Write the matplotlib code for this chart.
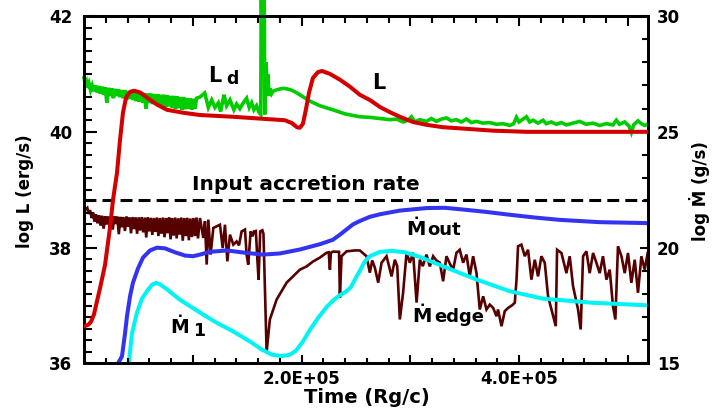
import numpy as np
import matplotlib
matplotlib.use("Agg")
import matplotlib.pyplot as plt
from matplotlib.ticker import MultipleLocator, FixedLocator, NullFormatter

# ---------------------------------------------------------------------------
# Data (time in units of 1e3 Rg/c)
# ---------------------------------------------------------------------------
# Total luminosity L (left axis, log erg/s)
t_L = [0, 4.0, 6.4, 9.2, 11.0, 14.7, 19.3, 23.9, 26.7, 30.3, 33.1, 35.8, 38.6,
       42.3, 45.9, 51.5, 57.9, 67.1, 76.3, 91.0, 106.6, 136.9, 168.2, 184.7,
       191.2, 195.7, 198.5, 201.3, 204.0, 206.8, 210.5, 215.1, 218.8, 226.1,
       235.3, 244.5, 253.6, 262.8, 272.0, 281.2, 290.4, 302.4, 315.2, 329.9,
       345.5, 375.9, 407.1, 518.3]
log_L = [36.64, 36.67, 36.72, 36.85, 37.0, 37.3, 37.7, 38.35, 38.83, 39.29,
         39.86, 40.33, 40.59, 40.69, 40.71, 40.68, 40.59, 40.47, 40.38, 40.33,
         40.29, 40.26, 40.22, 40.2, 40.15, 40.08, 40.07, 40.14, 40.38, 40.67,
         40.93, 41.03, 41.05, 41.0, 40.9, 40.78, 40.64, 40.55, 40.43, 40.34,
         40.26, 40.17, 40.12, 40.08, 40.06, 40.02, 40.0, 40.0]

# Disk luminosity L_d (left axis)
t_Ld = [0, 1.0, 2.0, 3.0, 4.5, 6.0, 7.5, 9.0, 10.5, 12.0, 13.5, 15.0, 16.5, 18.0,
        19.5, 21.0, 22.5, 24.0, 25.5, 27.0, 28.5, 30.0, 31.5, 33.0, 34.5, 36.0,
        37.5, 39.0, 40.5, 42.0, 43.5, 45.0, 46.5, 48.0, 49.5, 51.0, 52.5, 54.0,
        55.5, 57.0, 58.5, 60.0, 61.5, 63.0, 64.5, 66.0, 67.5, 69.0, 70.5, 72.0,
        73.5, 75.0, 76.5, 78.0, 79.5, 81.0, 82.5, 84.0, 85.5, 87.0, 88.5, 90.0,
        91.5, 93.0, 94.5, 96.0, 97.5, 99.0, 100.5, 102.0, 103.5, 106.6, 111.0,
        114.3, 117.4, 120.4, 123.5, 125.6, 128.7, 131.1, 134.2, 137.8, 140.3,
        143.3, 146.4, 149.5, 151.9, 154.1, 156.2, 158.7, 161.0, 162.5, 163.0,
        164.0, 164.8, 165.6, 166.2, 167.3, 168.2, 169.1, 170.0, 170.9, 172.5,
        173.7, 176.4, 180.1, 184.0, 189.3, 193.0, 198.5, 207.7, 216.9, 228.8,
        239.9, 253.6, 262.8, 272.0, 281.2, 287.3, 293.5, 298.0, 301.1, 304.1,
        308.7, 314.9, 319.4, 324.0, 328.6, 333.3, 337.8, 342.4, 347.0, 351.6,
        356.2, 360.8, 366.9, 373.0, 379.2, 385.3, 391.5, 395.1, 397.6, 400.0,
        403.7, 406.8, 409.8, 412.9, 417.5, 422.1, 425.1, 429.7, 434.3, 438.9,
        443.5, 449.6, 455.7, 461.9, 468.0, 474.1, 480.3, 486.4, 489.5, 492.5,
        497.1, 501.1, 503.3, 505.4, 509.4, 512.5, 515.6, 518.3]
log_Ld = [40.93, 40.85, 40.88, 40.76, 40.84, 40.72, 40.80, 40.70, 40.80, 40.68,
          40.79, 40.66, 40.78, 40.64, 40.77, 40.50, 40.76, 40.62, 40.75, 40.58,
          40.74, 40.62, 40.73, 40.60, 40.72, 40.58, 40.72, 40.55, 40.70, 40.57,
          40.70, 40.55, 40.69, 40.53, 40.68, 40.52, 40.68, 40.50, 40.67, 40.40,
          40.66, 40.50, 40.66, 40.48, 40.65, 40.47, 40.65, 40.45, 40.64, 40.46,
          40.64, 40.43, 40.63, 40.44, 40.62, 40.42, 40.62, 40.40, 40.61, 40.41,
          40.60, 40.38, 40.60, 40.39, 40.58, 40.40, 40.58, 40.38, 40.57, 40.40,
          40.58, 40.60, 40.67, 40.42, 40.55, 40.42, 40.50, 40.35, 40.64, 40.45,
          40.55, 40.38, 40.48, 40.40, 40.50, 40.58, 40.42, 40.50, 40.38, 40.45,
          40.33, 40.30, 42.6, 40.90, 42.6, 42.6, 40.30, 41.20, 40.80, 41.00,
          40.62, 40.75, 40.66, 40.70, 40.72, 40.74, 40.75, 40.73, 40.70, 40.64,
          40.53, 40.45, 40.38, 40.31, 40.26, 40.25, 40.23, 40.21, 40.22, 40.17,
          40.20, 40.26, 40.17, 40.21, 40.18, 40.23, 40.18, 40.22, 40.24, 40.19,
          40.21, 40.17, 40.22, 40.16, 40.18, 40.15, 40.16, 40.13, 40.14, 40.11,
          40.14, 40.25, 40.17, 40.22, 40.26, 40.17, 40.20, 40.15, 40.20, 40.14,
          40.17, 40.13, 40.16, 40.12, 40.15, 40.18, 40.13, 40.15, 40.11, 40.14,
          40.12, 40.20, 40.13, 40.17, 40.10, 39.99, 40.12, 40.19, 40.14, 40.11,
          40.13]

# Outflow rate M_out (right axis, log g/s)
t_out = [28.5, 31.2, 34.9, 37.7, 39.5, 42.3, 45.0, 49.6, 54.2, 60.7, 67.1, 74.4,
         83.6, 92.8, 100.2, 106.6, 115.8, 131.4, 148.0, 164.5, 180.1, 198.5,
         216.9, 228.8, 235.3, 247.2, 253.6, 262.8, 272.0, 290.4, 315.2, 331.8,
         345.5, 368.5, 391.5, 414.5, 437.4, 474.2, 518.3]
mdot_out = [14.8, 15.0, 15.31, 16.3, 17.04, 17.9, 18.49, 19.1, 19.57, 19.88, 20.0,
            19.97, 19.8, 19.66, 19.63, 19.7, 19.82, 19.88, 19.78, 19.7, 19.75,
            19.92, 20.15, 20.34, 20.56, 21.0, 21.15, 21.33, 21.44, 21.6, 21.71,
            21.72, 21.66, 21.55, 21.42, 21.3, 21.2, 21.1, 21.06]

# Inner accretion rate M_1 (right axis)
t_1 = [38.6, 41.4, 44.1, 48.7, 53.3, 57.9, 62.5, 66.2, 69.8, 76.3, 88.2, 106.6,
       120.4, 136.9, 152.6, 163.6, 172.8, 182.0, 189.3, 194.8, 201.3, 207.7,
       215.0, 223.3, 229.8, 235.3, 240.8, 245.4, 250.0, 253.6, 258.2, 262.8,
       272.0, 283.1, 295.0, 308.8, 329.9, 345.5, 361.2, 391.5, 421.8, 467.8,
       518.3]
mdot_1 = [14.8, 15.1, 16.3, 17.2, 17.8, 18.12, 18.4, 18.48, 18.42, 18.2, 17.75,
          17.2, 16.8, 16.39, 15.95, 15.6, 15.38, 15.32, 15.38, 15.55, 15.95,
          16.45, 16.95, 17.45, 17.75, 17.95, 18.1, 18.3, 18.7, 19.0, 19.4, 19.63,
          19.82, 19.86, 19.8, 19.6, 19.2, 18.91, 18.62, 18.12, 17.8, 17.62, 17.51]

# Accretion rate through the outer edge M_edge (right axis)
t_edge = [0, 1.5, 3.0, 4.2, 5.5, 7.0, 8.3, 9.6, 11.0, 12.4, 13.8, 15.2, 16.6,
          18.0, 19.4, 20.8, 22.2, 23.6, 25.0, 26.4, 27.8, 29.2, 30.6, 32.0, 33.4,
          34.8, 36.2, 37.6, 39.0, 40.4, 41.8, 43.2, 44.6, 46.0, 47.4, 48.8, 50.2,
          51.6, 53.0, 54.4, 55.8, 57.2, 58.6, 60.0, 61.4, 62.8, 64.2, 65.6, 67.0,
          68.4, 69.8, 71.2, 72.6, 74.0, 75.4, 76.8, 78.2, 79.6, 81.0, 82.4, 83.8,
          85.2, 86.6, 88.0, 89.4, 90.8, 92.2, 93.6, 95.0, 96.4, 97.8, 99.2, 100.6,
          102.0, 103.4, 104.8, 106.6, 109.7, 111.2, 112.8, 114.3, 116.4, 118.9,
          121.9, 125.0, 127.5, 129.6, 131.8, 134.2, 137.3, 140.3, 142.5, 144.9,
          148.0, 149.5, 151.0, 153.2, 155.0, 156.2, 158.0, 159.5, 160.5, 162.0,
          164.0, 165.0, 167.9, 170.9, 177.1, 186.3, 198.5, 204.7, 210.5, 216.9,
          223.0, 225.0, 226.1, 227.0, 229.0, 234.5, 235.3, 236.8, 241.4, 249.0,
          253.6, 259.8, 262.8, 265.0, 267.4, 270.5, 273.6, 278.2, 282.8, 285.8,
          288.0, 290.4, 293.4, 296.6, 299.6, 302.6, 305.8, 308.8, 311.5, 314.9,
          318.0, 321.0, 324.0, 327.2, 330.2, 333.3, 336.5, 339.4, 342.5, 345.5,
          348.6, 351.7, 354.7, 357.8, 360.9, 363.9, 367.0, 370.1, 373.1, 376.2,
          379.3, 380.7, 383.9, 386.9, 390.0, 393.3, 396.1, 397.7, 399.1, 402.2,
          405.3, 408.3, 411.4, 414.5, 417.5, 420.6, 423.7, 426.7, 429.8, 433.8,
          435.0, 439.0, 443.6, 446.6, 449.7, 454.3, 456.7, 458.9, 462.0, 465.0,
          468.1, 471.2, 474.2, 477.2, 480.4, 483.4, 486.4, 488.6, 491.0, 494.2,
          497.2, 500.2, 503.3, 506.4, 509.4, 512.5, 515.6, 518.3]
mdot_edge = [21.56, 21.66, 21.72, 21.46, 21.62, 21.28, 21.52, 21.12, 21.44, 21.05,
             21.40, 20.95, 21.38, 20.82, 21.36, 21.00, 21.35, 20.90, 21.37, 20.78,
             21.35, 21.02, 21.34, 20.58, 21.33, 20.88, 21.32, 20.72, 21.34, 20.90,
             21.30, 20.62, 21.32, 20.80, 21.30, 20.60, 21.31, 20.74, 21.32, 20.66,
             21.30, 20.44, 21.30, 20.70, 21.29, 20.55, 21.28, 20.68, 21.30, 20.50,
             21.28, 20.60, 21.30, 20.45, 21.28, 20.62, 21.30, 20.36, 21.28, 20.52,
             21.30, 20.40, 21.27, 20.56, 21.30, 20.30, 21.28, 20.50, 21.29, 20.32,
             21.26, 20.46, 21.28, 20.50, 21.30, 20.40, 21.28, 20.42, 21.14, 19.27,
             21.21, 19.70, 20.85, 20.92, 20.99, 19.98, 20.99, 19.41, 20.56, 20.13,
             20.27, 20.10, 20.70, 20.78, 19.70, 19.27, 20.70, 20.49, 20.70, 20.72,
             19.40, 18.62, 20.70, 20.75, 20.60, 15.50, 16.90, 17.76, 18.49, 19.05,
             19.19, 19.40, 19.57, 19.78, 19.80, 19.05, 19.78, 19.83, 19.82, 17.84,
             19.63, 19.84, 19.88, 19.88, 19.63, 18.92, 19.45, 19.14, 18.49, 19.35,
             19.63, 18.76, 19.48, 19.20, 16.90, 18.06, 19.78, 19.35, 19.78, 17.63,
             19.48, 19.20, 19.70, 19.19, 19.63, 19.45, 19.35, 18.55, 19.63, 19.30,
             19.05, 19.78, 19.91, 19.35, 19.70, 18.76, 19.63, 18.90, 17.33, 17.90,
             17.33, 17.54, 17.40, 17.04, 17.33, 16.61, 17.26, 17.40, 17.50, 17.62,
             18.62, 20.06, 20.13, 19.63, 19.91, 18.62, 19.48, 18.76, 19.63, 19.34,
             17.90, 17.33, 16.61, 19.91, 19.77, 18.90, 19.63, 18.33, 17.33, 16.47,
             19.63, 19.84, 18.90, 19.77, 19.34, 18.90, 19.63, 18.62, 19.05, 17.47,
             16.90, 20.06, 19.63, 18.90, 19.77, 18.48, 19.48, 18.05, 19.63, 19.05,
             19.77]

mdot_input = 22.05          # input accretion rate, log g/s

t_max = 518.3               # 1e3 Rg/c
xtick_vals = [100, 200, 300, 400, 500]
xtick_labels = ["", "2.0E+05", "", "4.0E+05", ""]
ltick_vals = [36, 38, 40, 42]
rtick_vals = [15, 20, 25, 30]

KRG = 1e3

# ---------------------------------------------------------------------------
plt.rcParams["font.family"] = ["DejaVu Sans"]
plt.rcParams["font.weight"] = "bold"

fig = plt.figure(figsize=(7.17, 4.11), dpi=100)
ax = fig.add_axes([0.1172, 0.1156, 0.7861, 0.8455])
ax2 = ax.twinx()
ax.set_zorder(ax2.get_zorder() + 1)
ax.patch.set_visible(False)

RED = "#d40000"
GREEN = "#00cc00"
BLUE = "#3434f0"
CYAN = "#00f4f4"
DARK = "#560000"

# right axis: accretion rates
ax2.plot(np.array(t_edge) * KRG, mdot_edge, color=DARK, lw=1.9, zorder=2,
         solid_joinstyle="miter")
ax2.axhline(mdot_input, color="black", lw=2.2, dashes=(3.9, 2.0), zorder=2)
ax2.plot(np.array(t_out) * KRG, mdot_out, color=BLUE, lw=2.9, zorder=3,
         solid_capstyle="round")
ax2.plot(np.array(t_1) * KRG, mdot_1, color=CYAN, lw=2.9, zorder=4,
         solid_capstyle="round")

# left axis: luminosities
ax.plot(np.array(t_Ld) * KRG, log_Ld, color=GREEN, lw=2.6, zorder=2,
        clip_on=False, solid_joinstyle="miter")
ax.plot(np.array(t_L) * KRG, log_L, color=RED, lw=2.9, zorder=3,
        solid_capstyle="round")

ax.set_xlim(0, t_max * KRG)
ax.set_ylim(36, 42)
ax2.set_ylim(15, 30)

# ticks
ax.xaxis.set_major_locator(FixedLocator([v * KRG for v in xtick_vals]))
ax.set_xticklabels(xtick_labels)
ax.xaxis.set_minor_locator(MultipleLocator(20 * KRG))
ax.yaxis.set_major_locator(FixedLocator(ltick_vals))
ax.set_yticklabels([str(v) for v in ltick_vals])
ax.yaxis.set_minor_locator(MultipleLocator(0.2))
ax2.yaxis.set_major_locator(FixedLocator(rtick_vals))
ax2.set_yticklabels([str(v) for v in rtick_vals])
ax2.yaxis.set_minor_locator(MultipleLocator(1))

ax.tick_params(axis="x", which="major", direction="in", length=5.8, width=1.5,
               labelsize=12, pad=5)
ax.tick_params(axis="x", which="minor", direction="in", length=3.6, width=1.5)
ax.tick_params(axis="y", which="major", direction="in", length=9, width=1.5,
               labelsize=12, pad=8.5)
ax.tick_params(axis="y", which="minor", direction="in", length=5.5, width=1.5)
ax2.tick_params(axis="y", which="major", direction="in", length=6, width=1.5,
                labelsize=12, pad=6.5)
ax2.tick_params(axis="y", which="minor", direction="in", length=4.3, width=1.5)

top = ax.secondary_xaxis("top")
top.xaxis.set_major_locator(FixedLocator([v * KRG for v in xtick_vals]))
top.xaxis.set_minor_locator(MultipleLocator(20 * KRG))
top.xaxis.set_major_formatter(NullFormatter())
top.tick_params(axis="x", which="major", direction="in", length=7, width=1.5)
top.tick_params(axis="x", which="minor", direction="in", length=4.8, width=1.5)

for a in (ax, ax2, top):
    for sp in a.spines.values():
        sp.set_linewidth(2)

# axis titles
fig.text(0.512, 0.0195, "Time (Rg/c)", ha="center", va="baseline",
         fontsize=14, fontweight="bold")
fig.text(0.035, 0.535, "log L (erg/s)", ha="center", va="center",
         rotation=90, fontsize=12, fontweight="bold")
fig.text(0.975, 0.535, "log Ṁ (g/s)", ha="center", va="center",
         rotation=90, fontsize=12, fontweight="bold")

# curve labels
kw = dict(fontweight="bold", va="baseline", ha="left", color="black")
ax.text(114e3, 40.86, "L", fontsize=15, **kw)
ax.text(131e3, 40.83, "d", fontsize=12.5, **kw)
ax.text(264.7e3, 40.74, "L", fontsize=15, **kw)
ax.text(204e3, 39.0, "Input accretion rate", fontsize=14.5,
        fontweight="bold", va="baseline", ha="center")
ax.text(296e3, 38.22, "Ṁ", fontsize=14, **kw)
ax.text(316e3, 38.22, "out", fontsize=13, **kw)
ax.text(79e3, 36.53, "Ṁ", fontsize=13.5, **kw)
ax.text(100e3, 36.47, "1", fontsize=12.5, **kw)
ax.text(302e3, 36.72, "Ṁ", fontsize=14, **kw)
ax.text(322e3, 36.71, "edge", fontsize=13, **kw)

fig.savefig("out.png", dpi=100)
